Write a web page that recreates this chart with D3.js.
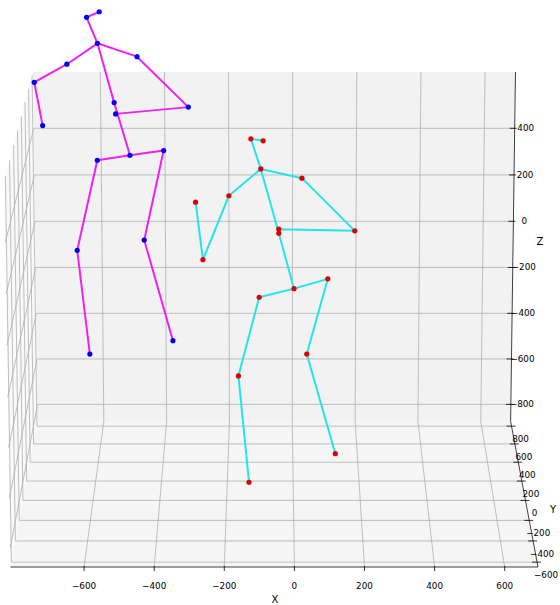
<!DOCTYPE html>
<html>
<head>
<meta charset="utf-8">
<script src="https://cdn.jsdelivr.net/npm/d3@7"></script>
<style>
  body { margin: 0; background: #fff; }
  svg text { font-family: "DejaVu Sans", sans-serif; fill: #000; }
</style>
</head>
<body>
<div id="chart"></div>
<script>
// axis limits and ticks
const xLim = [-810, 695], yLim = [-645, 855], zLim = [-875, 640];
const xTicks = [-600, -400, -200, 0, 200, 400, 600];
const yTicks = [-600, -400, -200, 0, 200, 400, 600, 800];
const zTicks = [-800, -600, -400, -200, 0, 200, 400];

// joints: hip, r hip, r knee, r foot, l hip, l knee, l foot, spine, thorax,
// nose, head, l shoulder, l elbow, l wrist, r shoulder, r elbow, r wrist
const bones = [[0,1],[1,2],[2,3],[0,4],[4,5],[5,6],[0,7],[7,8],[8,9],[9,10],
               [8,11],[11,12],[12,13],[8,14],[14,15],[15,16]];

// pose A (magenta / blue)
const poseAX = [-481, -382, -441, -358, -577, -639, -605, -526, -573, -604, -567, -663, -759, -736, -458, -309, -522];
const poseAY = [0, 0, 0, 0, 0, 0, 0, 0, 0, 0, 0, 0, 0, 0, 0, 0, 0];
const poseAZ = [540, 559, 198, -213, 520, 156, -268, 751, 987, 1090, 1112, 904, 832, 659, 934, 733, 706];

// pose B (cyan / red)
const poseBX = [1, 101, 39, 125, -102, -164, -133, -44, -97, -126, -90, -191, -268, -289, 24, 180, -44];
const poseBY = [0, 0, 0, 0, 0, 0, 0, 0, 0, 0, 0, 0, 0, 0, 0, 0, 0];
const poseBZ = [0, 40, -268, -680, -35, -358, -799, 225, 485, 606, 598, 377, 118, 351, 448, 235, 242];

const width = 560, height = 605;

const svg = d3.select("#chart")
  .append("svg")
  .attr("width", width)
  .attr("height", height);

// perspective camera like a matplotlib 3d axes
const elev = 14.5 * Math.PI / 180, azim = -90 * Math.PI / 180, dist = 10;
const bk = 1.8294640721620434 / Math.hypot(4, 4, 3);
const box = [4 * bk, 4 * bk, 3 * bk];
const R = box.map(b => b / 2);
const w = [Math.cos(elev) * Math.cos(azim), Math.cos(elev) * Math.sin(azim), Math.sin(elev)];
const eye = R.map((r, i) => r + dist * w[i]);
const dot = (a, b) => a[0] * b[0] + a[1] * b[1] + a[2] * b[2];
const cross = (a, b) => [a[1] * b[2] - a[2] * b[1], a[2] * b[0] - a[0] * b[2], a[0] * b[1] - a[1] * b[0]];
let u = cross([0, 0, 1], w);
const un = Math.hypot(...u);
u = u.map(c => c / un);
const v = cross(w, u);

const nx = d3.scaleLinear().domain(xLim).range([0, box[0]]);
const ny = d3.scaleLinear().domain(yLim).range([0, box[1]]);
const nz = d3.scaleLinear().domain(zLim).range([0, box[2]]);

function proj3(x, y, z) {
  const d = [nx(x) - eye[0], ny(y) - eye[1], nz(z) - eye[2]];
  const depth = -dot(d, w);
  return [dot(d, u) / depth, dot(d, v) / depth];
}

const cornerA = proj3(xLim[0], yLim[1], zLim[1]);
const cornerB = proj3(xLim[1], yLim[0], zLim[0]);
const sx = d3.scaleLinear().domain([cornerA[0], cornerB[0]]).range([33, 538]);
const sy = d3.scaleLinear().domain([cornerA[1], cornerB[1]]).range([72, 567]);
const P = (x, y, z) => { const q = proj3(x, y, z); return [sx(q[0]), sy(q[1])]; };

const [x0, x1] = xLim, [y0, y1] = yLim, [z0, z1] = zLim;

// panes
const pane = (pts, fill) => svg.append("path")
  .attr("d", d3.line()(pts.map(p => P(...p))) + "Z")
  .attr("fill", fill);
pane([[x0, y0, z0], [x0, y1, z0], [x0, y1, z1], [x0, y0, z1]], "#f9f9f9");
pane([[x0, y1, z0], [x1, y1, z0], [x1, y1, z1], [x0, y1, z1]], "#f2f2f2");
pane([[x0, y0, z0], [x1, y0, z0], [x1, y1, z0], [x0, y1, z0]], "#f5f5f5");

// grid lines
const gridG = svg.append("g").attr("stroke", "#b0b0b0").attr("stroke-width", 0.8).attr("fill", "none");
const seg = (g, a, b) => g.append("line")
  .attr("x1", a[0]).attr("y1", a[1]).attr("x2", b[0]).attr("y2", b[1]);

xTicks.forEach(x => {
  seg(gridG, P(x, y1, z0), P(x, y1, z1));
  seg(gridG, P(x, y0, z0), P(x, y1, z0));
});
zTicks.forEach(z => {
  seg(gridG, P(x0, y1, z), P(x1, y1, z));
  seg(gridG, P(x0, y0, z), P(x0, y1, z));
});
yTicks.forEach(y => {
  seg(gridG, P(x0, y, z0), P(x1, y, z0));
  seg(gridG, P(x0, y, z0), P(x0, y, z1));
});

// axis lines
const axG = svg.append("g").attr("stroke", "#000").attr("stroke-width", 0.75);
seg(axG, P(x0, y0, z0), P(x1, y0, z0));
seg(axG, P(x1, y0, z0), P(x1, y1, z0));
seg(axG, P(x1, y1, z0), P(x1, y1, z1));

const fmt = d => d < 0 ? "\u2212" + Math.abs(d) : String(d);
const tickG = svg.append("g").attr("stroke", "#000").attr("stroke-width", 0.8);
const labG = svg.append("g").style("font-size", "8.8px").attr("text-anchor", "middle");

xTicks.forEach(x => {
  const p = P(x, y0, z0);
  seg(tickG, [p[0], p[1] - 1], [p[0], p[1] + 4]);
  labG.append("text").attr("x", p[0]).attr("y", p[1] + 19)
    .attr("dominant-baseline", "central").text(fmt(x));
});
yTicks.forEach(y => {
  const p = P(x1, y, z0);
  seg(tickG, [p[0] - 5, p[1]], [p[0] + 4, p[1]]);
  labG.append("text").attr("x", p[0] + 9).attr("y", p[1] + 13)
    .attr("dominant-baseline", "central").text(fmt(y));
});
zTicks.forEach(z => {
  const p = P(x1, y1, z);
  seg(tickG, [p[0] - 5, p[1]], [p[0] + 2, p[1]]);
  labG.append("text").attr("x", p[0] + 11).attr("y", p[1])
    .attr("dominant-baseline", "central").text(fmt(z));
});

// axis titles
const titleG = svg.append("g").style("font-size", "10px").attr("text-anchor", "middle")
  .attr("dominant-baseline", "central");
titleG.append("text").attr("x", 275).attr("y", 599).text("X");
titleG.append("text").attr("x", 553).attr("y", 509).text("Y");
titleG.append("text").attr("x", 540).attr("y", 241).text("Z");

// skeletons
function drawPose(xs, ys, zs, lineColor, dotColor) {
  const pts = xs.map((x, i) => P(x, ys[i], zs[i]));
  const g = svg.append("g");
  g.selectAll("line")
    .data(bones)
    .join("line")
    .attr("x1", d => pts[d[0]][0]).attr("y1", d => pts[d[0]][1])
    .attr("x2", d => pts[d[1]][0]).attr("y2", d => pts[d[1]][1])
    .attr("stroke", lineColor)
    .attr("stroke-width", 2);
  g.selectAll("circle")
    .data(pts)
    .join("circle")
    .attr("cx", d => d[0]).attr("cy", d => d[1])
    .attr("r", 2.6)
    .attr("fill", dotColor);
}
drawPose(poseAX, poseAY, poseAZ, "#ee22ee", "#0000ee");
drawPose(poseBX, poseBY, poseBZ, "#22e4ea", "#dd0000");
</script>
</body>
</html>
